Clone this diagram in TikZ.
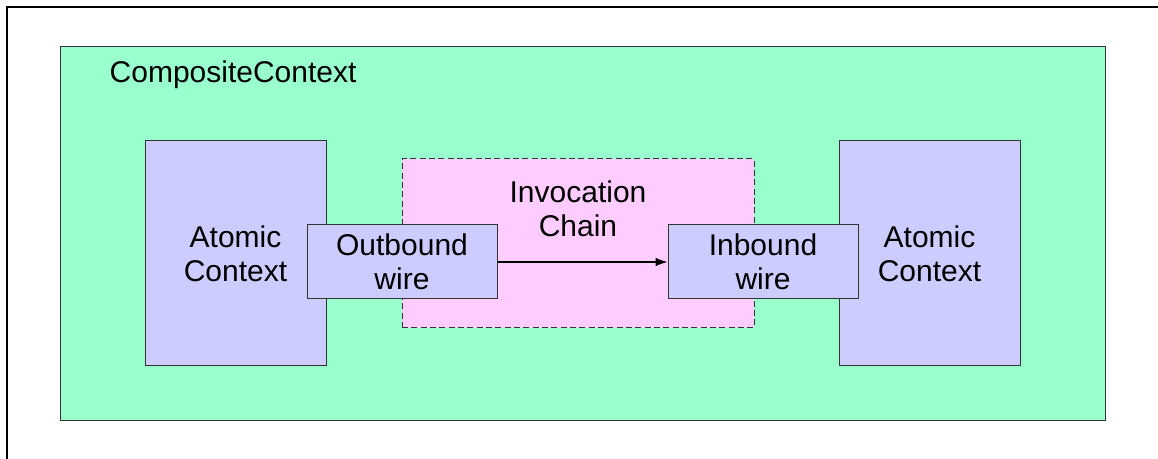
\documentclass[tikz,border=0pt]{standalone}
\usepackage{fontspec}
\setmainfont{Liberation Sans}
\usepackage{xcolor}
\usepackage{tikz}
\usetikzlibrary{arrows.meta,positioning}

\definecolor{ctxgreen}{HTML}{99FFCC}
\definecolor{ctxblue}{HTML}{CCCCFF}
\definecolor{ctxpink}{HTML}{FFCCFF}

\begin{document}
\begin{tikzpicture}[x=0.75pt, y=-0.75pt,
  box/.style={draw=black!80, line width=0.75pt, inner sep=0pt, align=center,
    font=\fontsize{22.5}{25.5}\selectfont},
  atomic/.style={box, fill=ctxblue, minimum width=135.75pt, minimum height=168.75pt},
  wirebox/.style={box, fill=ctxblue, minimum width=142.5pt, minimum height=55.5pt}]
\useasboundingbox (0,0) rectangle (1158,459);
\draw[line width=2pt] (7,459) -- (7,7) -- (1158,7);
% composite context and chain
\node[box, fill=ctxgreen, minimum width=783.75pt, minimum height=280.5pt] (composite) at (582.5,234) {};
\node[anchor=base west, font=\fontsize{22.5}{25.5}\selectfont] (compname) at (105,83) {CompositeContext};
\node[box, fill=ctxpink, dash pattern=on 4.5pt off 2.5pt, minimum width=264pt, minimum height=126.75pt] (chain) at (578,243.5) {};
\node[align=center, font=\fontsize{22.5}{25.5}\selectfont] (chainname) at (578,209) {Invocation\\Chain};
% atomic contexts
\node[atomic] (atomicL) at (235.5,253.5) {Atomic\\Context};
\node[atomic] (atomicR) at (929.5,253.5) {Atomic\\Context};
% wires
\node[wirebox] (outwire) at (402,262) {Outbound\\wire};
\node[wirebox] (inwire) at (763,262) {Inbound\\wire};
\draw[line width=0.9pt, -{Latex[length=9pt,width=6.5pt]}] (outwire) -- (inwire);
\end{tikzpicture}
\end{document}
